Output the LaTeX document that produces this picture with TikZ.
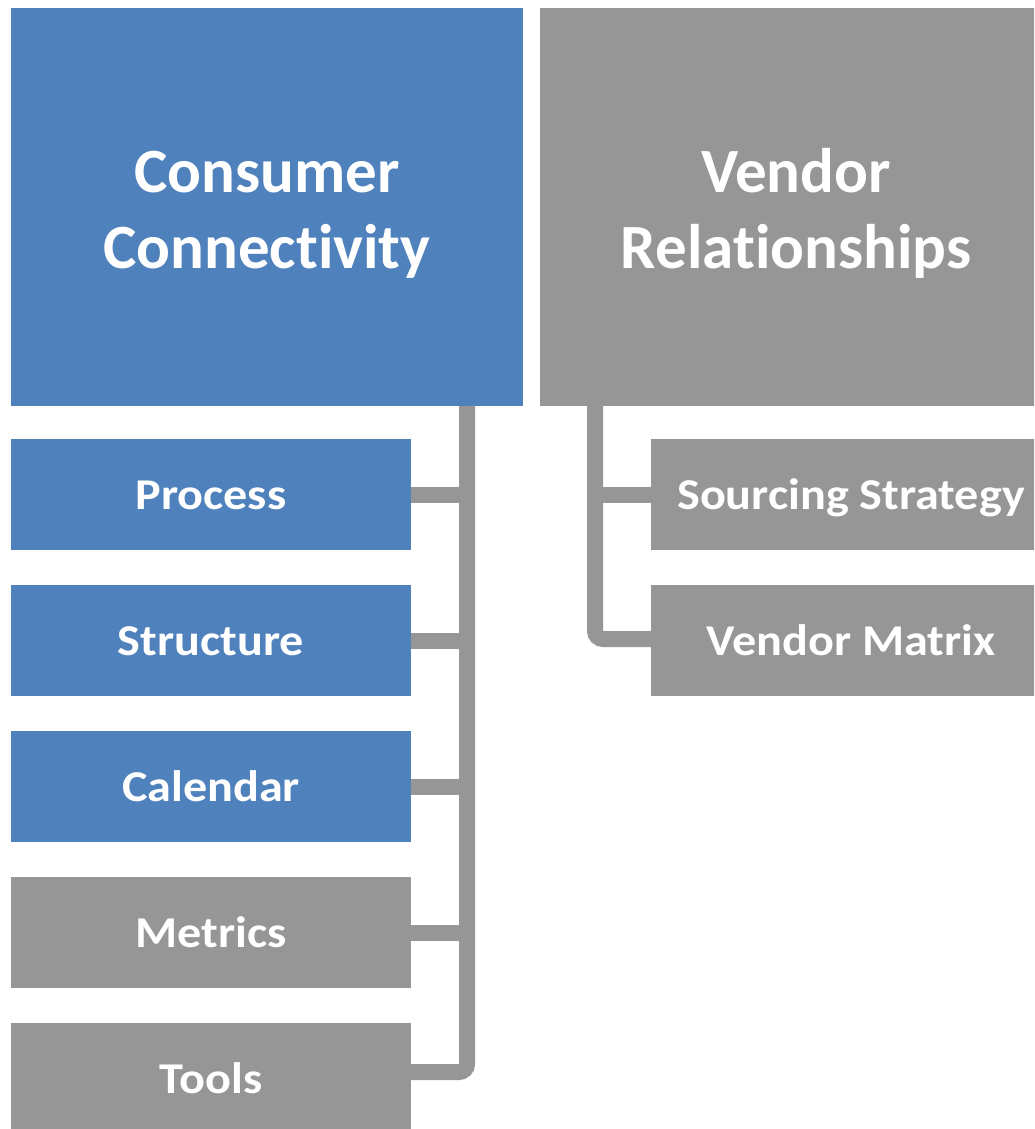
\documentclass[tikz,border=0pt]{standalone}
\usepackage{fontspec}
\setmainfont{Carlito}[Ligatures=NoCommon]
\newfontfamily\itemfont{Carlito}[Ligatures=NoCommon,FakeStretch=1.095]
\usetikzlibrary{positioning}
\definecolor{areablue}{HTML}{4F81BD}
\definecolor{areagray}{HTML}{969696}

\begin{document}
\begin{tikzpicture}[x=1pt,y=-1pt,
  head/.style={rectangle,text=white,font=\bfseries\fontsize{63}{76}\selectfont,minimum width=512pt,minimum height=398pt,align=center,inner sep=0pt,text height=130pt,text depth=8pt},
  item/.style={rectangle,text=white,font=\itemfont\bfseries\fontsize{44}{52}\selectfont,minimum width=400pt,minimum height=111pt,inner sep=0pt,text height=30pt,text depth=1pt},
  link/.style={draw=areagray,line width=16pt,rounded corners=8pt}]
  \useasboundingbox (0,0) rectangle (1034,1129);
  \clip (0,0) rectangle (1034,1129);
  % top areas
  \node[head,fill=areablue] (cc) at (267,207) {Consumer\\Connectivity};
  \node[head,fill=areagray] (vr) at (796,207) {Vendor\\Relationships};
  % left column
  \foreach \n/\t/\c [count=\i from 0] in {process/Process/areablue,structure/Structure/areablue,calendar/Calendar/areablue,metrics/Metrics/areagray,tools/Tools/areagray}{
    \node[item,fill=\c] (\n) at (211,494.5+\i*146) {\t};
  }
  % right column
  \node[item,fill=areagray] (sourcing) at (851,494.5) {Sourcing Strategy};
  \node[item,fill=areagray] (vm) at (851,640.5) {Vendor Matrix};
  % connectors
  \coordinate (lx) at (467,0);
  \coordinate (rx) at (595,0);
  \draw[link] (cc.south -| lx) |- ([yshift=6.5pt]tools.east);
  \foreach \n in {process,structure,calendar,metrics}{
    \draw[link] (\n.east) -- (\n.east -| lx);
  }
  \draw[link] (vr.south -| rx) |- ([yshift=1.5pt]vm.west);
  \draw[link] (sourcing.west) -- (sourcing.west -| rx);
\end{tikzpicture}
\end{document}
